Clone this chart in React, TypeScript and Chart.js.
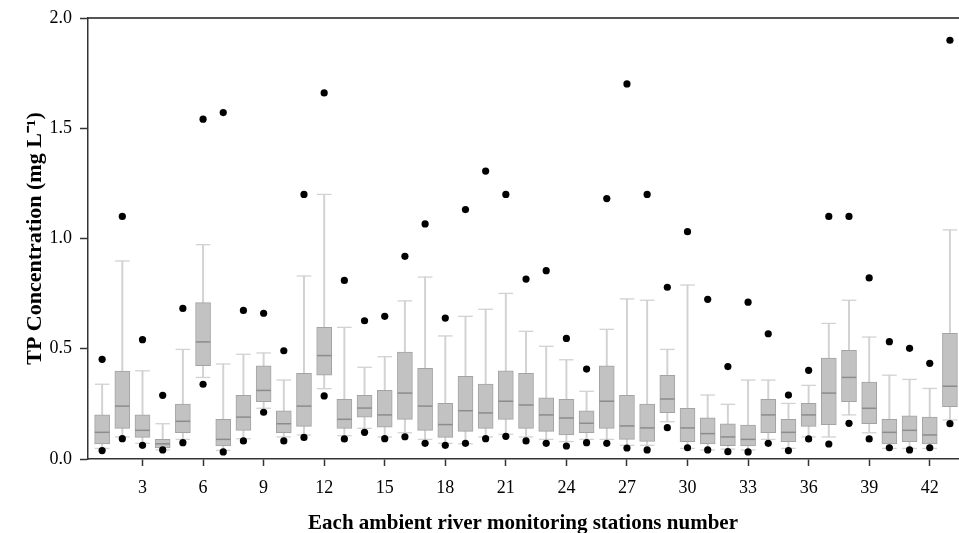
import React, { useEffect, useRef } from "react";
import { Chart, registerables } from "chart.js";

Chart.register(...registerables);

const stations = [1,2,3,4,5,6,7,8,9,10,11,12,13,14,15,16,17,18,19,20,21,22,23,24,25,26,27,28,29,30,31,32,33,34,35,36,37,38,39,40,41,42,43];
const q1 = [0.068,0.139,0.098,0.050,0.119,0.423,0.059,0.130,0.260,0.119,0.148,0.380,0.139,0.190,0.144,0.180,0.130,0.098,0.125,0.139,0.180,0.139,0.125,0.109,0.119,0.139,0.089,0.080,0.210,0.079,0.068,0.060,0.059,0.119,0.079,0.148,0.156,0.260,0.160,0.068,0.079,0.068,0.237];
const medians = [0.121,0.240,0.130,0.069,0.171,0.531,0.089,0.190,0.311,0.160,0.240,0.469,0.180,0.231,0.200,0.299,0.240,0.156,0.219,0.209,0.262,0.245,0.200,0.186,0.162,0.262,0.150,0.141,0.272,0.141,0.115,0.100,0.089,0.200,0.121,0.200,0.299,0.370,0.230,0.121,0.130,0.109,0.330];
const q3 = [0.200,0.399,0.200,0.089,0.249,0.709,0.180,0.289,0.422,0.218,0.389,0.597,0.271,0.289,0.311,0.485,0.411,0.252,0.375,0.340,0.400,0.389,0.277,0.271,0.218,0.423,0.289,0.249,0.380,0.230,0.187,0.160,0.154,0.271,0.180,0.252,0.458,0.493,0.349,0.180,0.196,0.190,0.570];
const whiskerLow = [0.048,0.100,0.071,0.041,0.089,0.370,0.039,0.092,0.230,0.100,0.109,0.319,0.106,0.139,0.100,0.119,0.089,0.071,0.069,0.100,0.112,0.100,0.089,0.079,0.089,0.089,0.062,0.062,0.169,0.048,0.041,0.045,0.041,0.089,0.048,0.100,0.100,0.200,0.119,0.048,0.048,0.048,0.177];
const whiskerHigh = [0.339,0.898,0.400,0.160,0.497,0.972,0.431,0.475,0.481,0.358,0.830,1.200,0.597,0.416,0.464,0.717,0.825,0.558,0.647,0.679,0.751,0.579,0.511,0.450,0.307,0.588,0.726,0.720,0.497,0.789,0.290,0.248,0.358,0.358,0.252,0.334,0.615,0.720,0.553,0.380,0.361,0.320,1.039];
const outlierLow = [0.038,0.092,0.062,0.041,0.074,0.339,0.032,0.082,0.212,0.082,0.098,0.286,0.091,0.121,0.092,0.101,0.071,0.062,0.071,0.092,0.103,0.082,0.071,0.059,0.074,0.071,0.050,0.041,0.142,0.051,0.041,0.033,0.032,0.071,0.038,0.091,0.068,0.162,0.091,0.051,0.041,0.051,0.160];
const outlierHigh = [0.452,1.100,0.541,0.289,0.683,1.541,1.571,0.674,0.661,0.491,1.200,1.660,0.810,0.627,0.647,0.919,1.066,0.639,1.131,1.306,1.200,0.816,0.854,0.547,0.408,1.181,1.701,1.200,0.779,1.031,0.724,0.419,0.711,0.568,0.290,0.402,1.100,1.100,0.821,0.532,0.502,0.434,1.899];

const xTickValues = [3,6,9,12,15,18,21,24,27,30,33,36,39,42];
const yTickValues = [0, 0.5, 1.0, 1.5, 2.0];
const xTitle = "Each ambient river monitoring stations number";
const yTitle = "TP Concentration (mg L\u207B\u00B9)";

const W = 959;
const H = 533;
const FONT = "'Liberation Serif', 'Times New Roman', serif";

export default function App() {
  const ref = useRef<HTMLCanvasElement | null>(null);

  useEffect(() => {
    if (!ref.current) return;
    const pts = (vals: number[]) => stations.map((s, i) => ({ x: s, y: vals[i] }));
    const chart = new Chart(ref.current, {
      type: "bar",
      data: {
        datasets: [
          {
            type: "scatter",
            label: "outHigh",
            data: pts(outlierHigh),
            pointStyle: "circle",
            pointRadius: 3.6,
            backgroundColor: "#000",
            borderWidth: 0,
            order: 0,
          } as any,
          {
            type: "scatter",
            label: "outLow",
            data: pts(outlierLow),
            pointStyle: "circle",
            pointRadius: 3.6,
            backgroundColor: "#000",
            borderWidth: 0,
            order: 0,
          } as any,
          {
            type: "scatter",
            label: "median",
            data: pts(medians),
            pointStyle: "line",
            pointRadius: 7.3,
            borderColor: "#8c8c8c",
            borderWidth: 1.5,
            order: 1,
          } as any,
          {
            type: "bar",
            label: "box",
            data: stations.map((s, i) => ({ x: s, y: [q1[i], q3[i]] })),
            backgroundColor: "#c2c2c2",
            borderColor: "#a3a3a3",
            borderWidth: 1,
            borderSkipped: false,
            barThickness: 15,
            grouped: false,
            order: 2,
          } as any,
          {
            type: "scatter",
            label: "caps",
            data: [...pts(whiskerHigh), ...pts(whiskerLow)],
            pointStyle: "line",
            pointRadius: 7.3,
            borderColor: "#d2d2d2",
            borderWidth: 1.3,
            order: 3,
          } as any,
          {
            type: "bar",
            label: "whisker",
            data: stations.map((s, i) => ({ x: s, y: [whiskerLow[i], whiskerHigh[i]] })),
            backgroundColor: "#d2d2d2",
            borderWidth: 0,
            barThickness: 1.3,
            grouped: false,
            order: 4,
          } as any,
        ],
      },
      options: {
        animation: false,
        responsive: false,
        devicePixelRatio: 1,
        layout: { autoPadding: false, padding: { left: 0, top: 18, right: 1, bottom: 0 } },
        plugins: { legend: { display: false }, tooltip: { enabled: false } },
        scales: {
          x: {
            type: "linear",
            position: "bottom",
            offset: false,
            min: 0.3,
            max: 43.4,
            afterBuildTicks: (s: any) => { s.ticks = xTickValues.map((v) => ({ value: v })); },
            afterFit: (s: any) => { s.height = H - 459; s.paddingLeft = 0; s.paddingRight = 0; },
            grid: { offset: false, drawOnChartArea: false, drawTicks: true, tickLength: 7, tickColor: "#333", tickWidth: 1.5 },
            border: { display: true, color: "#333", width: 1.5 },
            ticks: {
              color: "#000",
              padding: 11,
              maxRotation: 0,
              autoSkip: false,
              font: { family: FONT, size: 18 },
              callback: (v: any) => String(v),
            },
            title: {
              display: true,
              text: xTitle,
              color: "#000",
              font: { family: FONT, size: 21, weight: "bold", lineHeight: 1 },
              padding: { top: 0, bottom: -1 },
            },
          },
          x2: {
            type: "linear",
            position: "top",
            offset: false,
            min: 0.3,
            max: 43.4,
            afterFit: (s: any) => { s.height = 0; s.paddingLeft = 0; s.paddingRight = 0; },
            grid: { offset: false, display: false, drawTicks: false },
            ticks: { display: false },
            border: { display: true, color: "#555", width: 2 },
          },
          y: {
            type: "linear",
            position: "left",
            min: 0,
            max: 2,
            afterBuildTicks: (s: any) => { s.ticks = yTickValues.map((v) => ({ value: v })); },
            afterFit: (s: any) => { s.width = 88; s.paddingTop = 0; s.paddingBottom = 0; },
            grid: { drawOnChartArea: false, drawTicks: true, tickLength: 8, tickColor: "#333", tickWidth: 1.5 },
            border: { display: true, color: "#333", width: 1.5 },
            ticks: {
              color: "#000",
              padding: 8,
              font: { family: FONT, size: 18 },
              callback: (v: any) => Number(v).toFixed(1),
            },
            title: {
              display: true,
              text: yTitle,
              color: "#000",
              font: { family: FONT, size: 22, weight: "bold", lineHeight: 1 },
              padding: { top: 24, bottom: 0 },
            },
          },
        },
      } as any,
    });
    return () => chart.destroy();
  }, []);

  return (
    <div style={{ position: "fixed", left: 0, top: 0, width: W, height: H, background: "#fff" }}>
      <canvas ref={ref} width={W} height={H} style={{ display: "block", width: W, height: H }} />
    </div>
  );
}
